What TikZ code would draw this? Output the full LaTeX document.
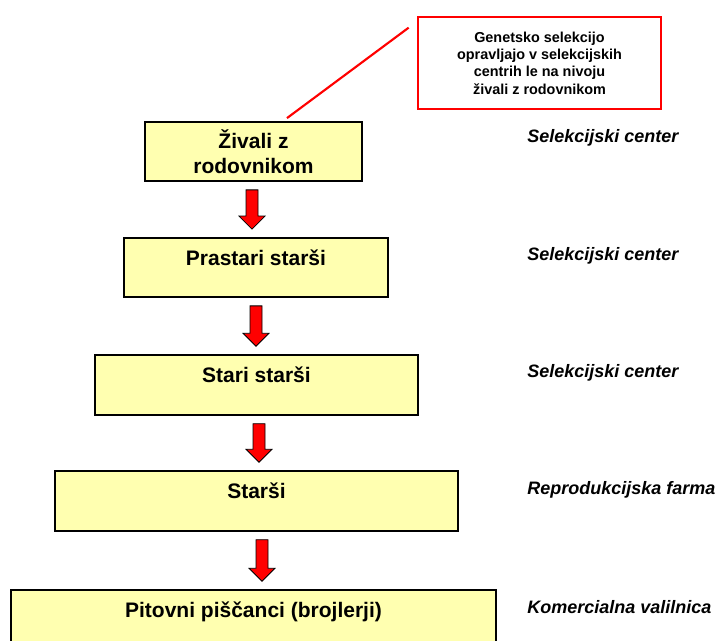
\documentclass[tikz,border=0pt]{standalone}
\usepackage{fontspec}
\setmainfont{Liberation Sans}
\usetikzlibrary{calc}

\definecolor{boxfill}{RGB}{255,255,176}

\tikzset{
  stage/.style={draw=black, line width=1.1pt, fill=boxfill, align=center, inner sep=0pt,
    minimum height=44.5pt, font=\fontsize{15.75}{18.75}\selectfont\bfseries},
  place/.style={anchor=west, inner sep=0pt, font=\fontsize{13.5}{16}\selectfont\bfseries\itshape},
  note/.style={draw=red, line width=2pt, align=center, inner sep=0pt,
    minimum width=182.25pt, minimum height=69pt, font=\fontsize{10.8}{13}\selectfont\bfseries},
  flow/.style={draw=black, line width=0.6pt, fill=red, to path={
    ($(\tikztostart.south)+(#1-6,8)$) -- ($(\tikztostart.south |- \tikztotarget.north)+(#1-6,-21)$)
    -- ++(-7,0) -- ($(\tikztostart.south |- \tikztotarget.north)+(#1,-8)$) -- ++(13,-13) -- ++(-7,0)
    -- ($(\tikztostart.south)+(#1+6,8)$) -- cycle}},
  flow/.default=0,
}

\begin{document}
\begin{tikzpicture}[x=0.75pt,y=-0.75pt]
\clip (0,0) rectangle (718,641);
\node[stage, minimum width=162.75pt] (zivali) at (253.5,151.5) {Živali z\\rodovnikom};
\node[stage, minimum width=198pt] (prastari) at (256,267.5) {Prastari starši\\[-9pt]\strut};
\node[stage, minimum width=242.25pt, minimum height=45pt] (stari) at (256.5,385) {Stari starši\\[-9pt]\strut};
\node[stage, minimum width=302.25pt, minimum height=45pt] (starsi) at (256.5,501) {Starši\\[-9pt]\strut};
\node[stage, minimum width=363.75pt, minimum height=45pt] (pitovni) at (253.5,620) {Pitovni piščanci (brojlerji)\\[-9pt]\strut};
\draw[flow=-1.5] (zivali) to (prastari);
\draw[flow] (prastari) to (stari);
\draw[flow=2.5] (stari) to (starsi);
\draw[flow=5.5] (starsi) to (pitovni);
\node[note] (opomba) at (539.5,63) {Genetsko selekcijo\\opravljajo v selekcijskih\\centrih le na nivoju\\živali z rodovnikom};
\coordinate (opA) at ($(opomba.north west)+(-8,12)$);
\coordinate (opB) at ($(zivali.north)+(33.5,-3)$);
\draw[red, line width=1.6pt] (opA) -- (opB);
\node[place] (plZivali) at (527,138) {Selekcijski center};
\node[place] (plPrastari) at (527,256) {Selekcijski center};
\node[place] (plStari) at (527,373) {Selekcijski center};
\node[place] (plStarsi) at (527,490) {Reprodukcijska farma};
\node[place] (plPitovni) at (527,607) {Komercialna valilnica};
\end{tikzpicture}
\end{document}
